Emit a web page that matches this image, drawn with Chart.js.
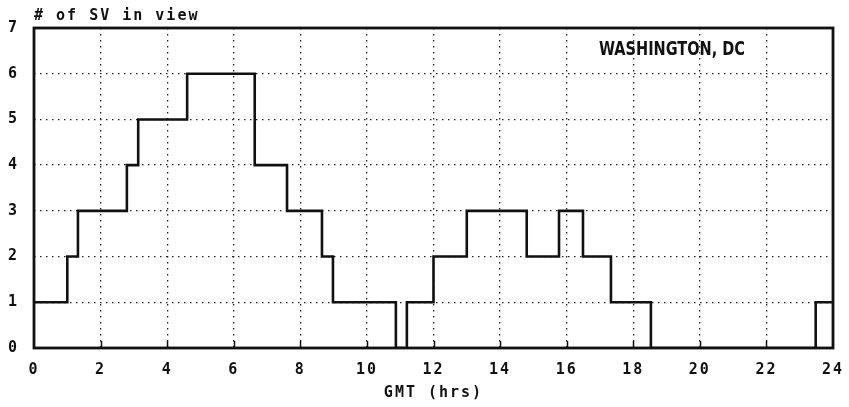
<!DOCTYPE html>
<html>
<head>
<meta charset="utf-8">
<script src="https://cdn.jsdelivr.net/npm/chart.js@4.4.1/dist/chart.umd.min.js"></script>
<style>
  html, body { margin: 0; padding: 0; background: #fff; }
  #wrap { width: 849px; height: 407px; }
</style>
</head>
<body>
<div id="wrap"><canvas id="myChart"></canvas></div>
<script>
  // Satellites in view over the day (step starts, GMT hours)
  const stepStarts = [0, 1.0, 1.32, 2.79, 3.13, 4.6, 6.63, 7.6, 8.65, 8.98, 10.87, 11.2, 12.0, 13.0, 14.8, 15.77, 16.49, 17.33, 18.53, 23.48, 24];
  const svCount    = [1, 2, 3, 4, 5, 6, 4, 3, 2, 1, 0, 1, 2, 3, 2, 3, 2, 1, 0, 1, 1];
  const xTicks = [0, 2, 4, 6, 8, 10, 12, 14, 16, 18, 20, 22, 24];
  const yTicks = [0, 1, 2, 3, 4, 5, 6, 7];

  const mono = '"DejaVu Sans Mono", "Liberation Mono", monospace';

  // espaciado de letras tipo impresora
  const espaciado = {
    id: 'espaciado',
    beforeLayout(chart) { chart.ctx.letterSpacing = '2px'; },
    beforeDraw(chart) { chart.ctx.letterSpacing = '2px'; }
  };

  // marco, marcas inferiores y textos fijos
  const marco = {
    id: 'marco',
    afterDraw(chart) {
      const { ctx, chartArea: a } = chart;
      const xs = chart.scales.x;
      ctx.save();
      ctx.strokeStyle = '#111';
      ctx.lineWidth = 1.5;
      xTicks.slice(1, -1).forEach(v => {
        const px = Math.round(xs.getPixelForValue(v)) + 0.5;
        ctx.beginPath();
        ctx.moveTo(px, a.bottom);
        ctx.lineTo(px, a.bottom - 7);
        ctx.stroke();
      });
      ctx.lineWidth = 2.8;
      ctx.strokeRect(a.left, a.top, a.right - a.left, a.bottom - a.top);
      ctx.fillStyle = '#111';
      ctx.letterSpacing = '2px';
      ctx.font = 'bold 15px ' + mono;
      ctx.textBaseline = 'bottom';
      ctx.textAlign = 'left';
      ctx.fillText('# of SV in view', a.left, a.top - 4);
      ctx.letterSpacing = '0px';
      ctx.font = 'bold 20px "Liberation Sans Narrow", "DejaVu Sans Condensed", sans-serif';
      ctx.textBaseline = 'middle';
      const txt = 'WASHINGTON, DC';
      const w = ctx.measureText(txt).width;
      ctx.translate(599, 50);
      ctx.scale(146 / w, 1);
      ctx.fillText(txt, 0, 0);
      ctx.restore();
    }
  };

  const ctx = document.getElementById('myChart');
  new Chart(ctx, {
    type: 'line',
    data: {
      datasets: [{
        label: 'SV',
        data: stepStarts.map((x, i) => ({ x: x, y: svCount[i] })),
        stepped: 'before',
        borderColor: '#111',
        borderWidth: 2.6,
        pointRadius: 0,
        fill: false
      }]
    },
    options: {
      responsive: true,
      maintainAspectRatio: false,
      animation: false,
      layout: { padding: { left: 4, right: 16, top: 28, bottom: 0 } },
      plugins: { legend: { display: false }, tooltip: { enabled: false } },
      scales: {
        x: {
          type: 'linear',
          min: 0, max: 24,
          afterBuildTicks: (s) => { s.ticks = xTicks.map(v => ({ value: v })); },
          afterFit: (s) => { s.height = 59; s.paddingLeft = 0; s.paddingRight = 0; },
          grid: { color: '#222', lineWidth: 1.3, drawTicks: false },
          border: { display: false, dash: [1.5, 4.5] },
          ticks: {
            color: '#111', padding: 13, maxRotation: 0,
            font: { family: mono, size: 15, weight: 'bold' }
          },
          title: {
            display: true, text: 'GMT (hrs)', color: '#111',
            font: { family: mono, size: 15, weight: 'bold' }, padding: { top: 2, bottom: 5 }
          }
        },
        y: {
          min: 0, max: 7,
          afterBuildTicks: (s) => { s.ticks = yTicks.map(v => ({ value: v })); },
          afterFit: (s) => { s.width = 30; s.paddingTop = 0; s.paddingBottom = 0; },
          grid: { color: '#222', lineWidth: 1.3, drawTicks: false },
          border: { display: false, dash: [1.5, 4.5] },
          ticks: {
            color: '#111', padding: 15,
            font: { family: mono, size: 15, weight: 'bold' }
          }
        }
      }
    },
    plugins: [espaciado, marco]
  });
</script>
</body>
</html>
